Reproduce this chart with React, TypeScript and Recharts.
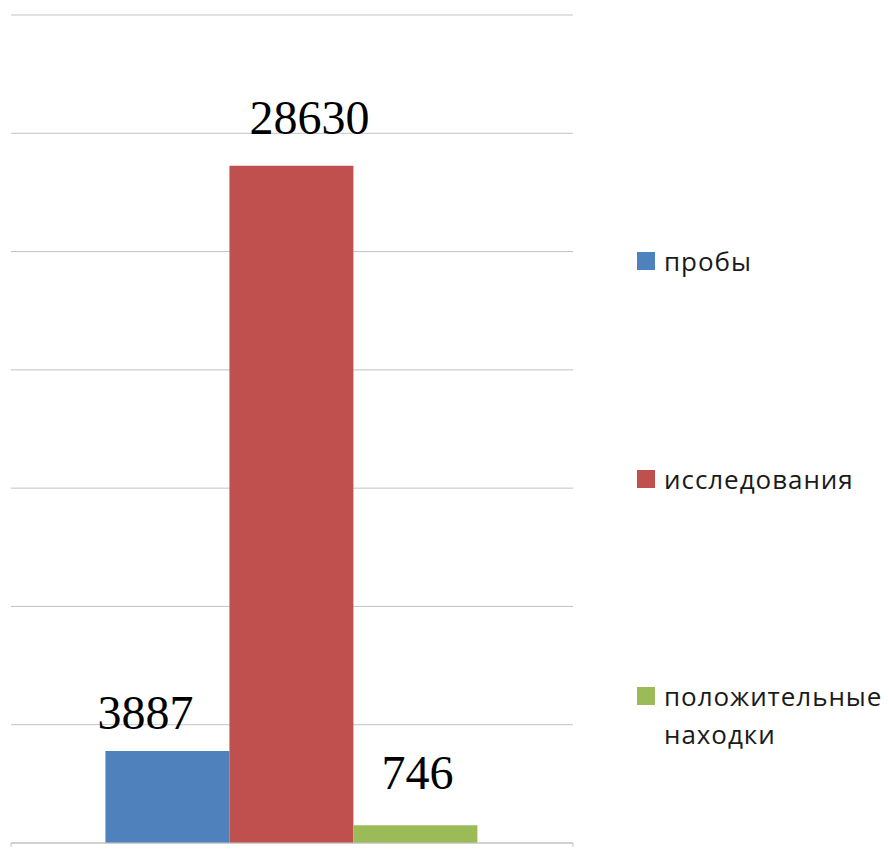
import React from "react";
import {
  BarChart,
  Bar,
  XAxis,
  YAxis,
  CartesianGrid,
  LabelList,
  Legend,
} from "recharts";

const CATEGORIES = [""];
const SERIES_NAMES = ["пробы", "исследования", "положительные находки"];
const SERIES_KEYS = ["samples", "studies", "positives"];
const SERIES_VALUES = [3887, 28630, 746];
const SERIES_COLORS = ["#4F81BD", "#C0504D", "#9BBB59"];
const Y_TICKS = [0, 5000, 10000, 15000, 20000, 25000, 30000, 35000];

const GRID = "#c3c3c3";
const LABEL_FONT = '"Liberation Serif", "Times New Roman", serif';
const LEGEND_FONT = '"Open Sans", "Noto Sans", sans-serif';

// label nudges per series (dx, gap above the bar top)
const LABEL_SHIFT = [
  { dx: -22, dy: -22 },
  { dx: 18, dy: -32 },
  { dx: 2, dy: -36 },
];

const data = CATEGORIES.map((name) => {
  const row: Record<string, string | number> = { name };
  SERIES_KEYS.forEach((k, i) => {
    row[k] = SERIES_VALUES[i];
  });
  return row;
});

const makeLabel = (i: number) => (props: any) => {
  const { x, y, width, value } = props;
  return (
    <text
      x={Number(x) + Number(width) / 2 + LABEL_SHIFT[i].dx}
      y={Number(y) + LABEL_SHIFT[i].dy}
      textAnchor="middle"
      fontFamily={LABEL_FONT}
      fontSize={48}
      fill="#000"
    >
      {value}
    </text>
  );
};

// category axis drawn as a box: ticks at the band edges, pointing down
const EdgeTicks = (props: any) => {
  const { x, y, width } = props;
  const half = Number(width) / 2;
  return (
    <g>
      <line x1={x - half} y1={y - 8} x2={x - half} y2={y + 20} stroke={GRID} />
      <line x1={x + half} y1={y - 8} x2={x + half} y2={y + 20} stroke={GRID} />
    </g>
  );
};

const SideLegend = () => (
  <div
    style={{
      position: "relative",
      fontFamily: LEGEND_FONT,
      fontSize: 26,
      letterSpacing: "0.95px",
      color: "#1a1a1a",
    }}
  >
    {SERIES_NAMES.map((name, i) => (
      <div
        key={name}
        style={{ position: "absolute", left: 0, top: i * 217.5, display: "flex", alignItems: "flex-start" }}
      >
        <div
          style={{
            width: 18,
            height: 18,
            marginTop: 10,
            marginRight: 9,
            background: SERIES_COLORS[i],
            flexShrink: 0,
          }}
        />
        <div style={{ width: 224, lineHeight: "38px" }}>{name}</div>
      </div>
    ))}
  </div>
);

export default function App() {
  return (
    <div style={{ margin: -8, background: "#fff", width: 889, height: 855 }}>
      <BarChart
        width={889}
        height={855}
        data={data}
        margin={{ top: 15, right: 316, left: 11, bottom: 0 }}
        barCategoryGap="16.8%"
        barGap={0}
      >
        <CartesianGrid stroke={GRID} vertical={false} />
        <XAxis
          dataKey="name"
          axisLine={{ stroke: GRID }}
          tickLine={false}
          tick={<EdgeTicks />}
          height={12}
        />
        <YAxis hide domain={[0, 35000]} ticks={Y_TICKS} />
        <Legend
          content={<SideLegend />}
          wrapperStyle={{ position: "absolute", left: 637, top: 242, width: 252 }}
        />
        {SERIES_KEYS.map((k, i) => (
          <Bar
            key={k}
            dataKey={k}
            name={SERIES_NAMES[i]}
            fill={SERIES_COLORS[i]}
            isAnimationActive={false}
          >
            <LabelList dataKey={k} content={makeLabel(i)} />
          </Bar>
        ))}
      </BarChart>
    </div>
  );
}
